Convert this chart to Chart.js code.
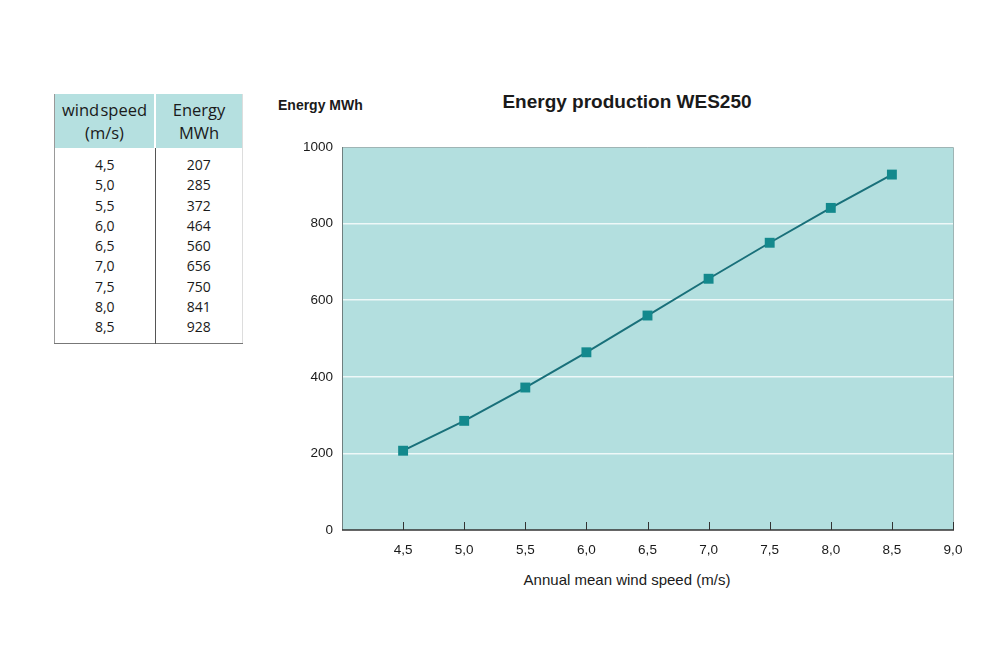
<!DOCTYPE html>
<html>
<head>
<meta charset="utf-8">
<script src="https://cdn.jsdelivr.net/npm/chart.js@4"></script>
<style>
  html, body { margin: 0; padding: 0; background: #ffffff; width: 1000px; height: 666px; overflow: hidden; }
  #tbl { position: absolute; left: 54px; top: 94px; width: 189px; border-collapse: collapse; font-family: "Open Sans", "Noto Sans", sans-serif; color: #1a1a1a; }
  #tbl th { background: #b5e0e0; font-weight: normal; font-size: 16.5px; line-height: 23px; height: 54px; padding: 0; text-align: center; word-spacing: -3px; }
  #tbl th.c1 { width: 99px; border-right: 2px solid #ffffff; }
  #tbl td { font-size: 14px; line-height: 20.3px; padding: 0; text-align: center; }
  #tbl td.c1 { border-right: 1.5px solid #555; }
  #tbl tbody tr:first-child td { padding-top: 7px; }
  #tbl tbody tr:last-child td { padding-bottom: 5px; }
  #tbl { border-left: 1px solid #999; border-bottom: 1.5px solid #777; border-right: 1px solid #ddd; }
  .txt { position: absolute; font-family: "Liberation Sans Narrow", "Liberation Sans", sans-serif; color: #1a1a1a; white-space: nowrap; }
  #ylab { left: 278px; top: 97px; font-weight: bold; font-size: 14px; }
  #title { left: 627px; top: 91px; transform: translateX(-50%); font-weight: bold; font-size: 19px; }
  #xlab { left: 627px; top: 571px; transform: translateX(-50%); font-size: 15px; }
  #wrap { position: absolute; left: 270px; top: 85px; width: 714px; height: 525px; }
</style>
</head>
<body>
<table id="tbl">
  <thead><tr><th class="c1">wind speed<br>(m/s)</th><th>Energy<br>MWh</th></tr></thead>
  <tbody id="tb"></tbody>
</table>
<div id="ylab" class="txt">Energy MWh</div>
<div id="title" class="txt">Energy production WES250</div>
<div id="xlab" class="txt">Annual mean wind speed (m/s)</div>
<div id="wrap"><canvas id="c" width="714" height="525"></canvas></div>
<script>
const windSpeeds = [4.5, 5.0, 5.5, 6.0, 6.5, 7.0, 7.5, 8.0, 8.5];
const energyMWh = [207, 285, 372, 464, 560, 656, 750, 841, 928];
const yTicks = [0, 200, 400, 600, 800, 1000];
const xTickLabels = ['4,5','5,0','5,5','6,0','6,5','7,0','7,5','8,0','8,5','9,0'];

const fmt = v => v.toFixed(1).replace('.', ',');
const tb = document.getElementById('tb');
windSpeeds.forEach((w, i) => {
  const tr = document.createElement('tr');
  tr.innerHTML = '<td class="c1">' + fmt(w) + '</td><td>' + energyMWh[i] + '</td>';
  tb.appendChild(tr);
});

const numFont = { family: '"Liberation Sans Narrow", "Liberation Sans", sans-serif', size: 13.5 };

const bgPlugin = {
  id: 'bg',
  beforeDraw(chart) {
    const { ctx, chartArea: a } = chart;
    ctx.save();
    ctx.fillStyle = '#b3dfdf';
    ctx.fillRect(a.left, a.top, a.right - a.left, a.bottom - a.top);
    ctx.restore();
  },
  beforeDatasetsDraw(chart) {
    const { ctx, chartArea: a, scales } = chart;
    ctx.save();
    ctx.strokeStyle = '#9fb5b5';
    ctx.lineWidth = 1;
    ctx.beginPath();
    ctx.moveTo(a.left, a.top + 0.5); ctx.lineTo(a.right + 0.5, a.top + 0.5); ctx.lineTo(a.right + 0.5, a.bottom);
    ctx.stroke();
    ctx.strokeStyle = '#6f7f7f';
    ctx.beginPath();
    ctx.moveTo(a.left + 0.5, a.top); ctx.lineTo(a.left + 0.5, a.bottom);
    ctx.stroke();
    ctx.strokeStyle = '#333';
    ctx.lineWidth = 1.5;
    ctx.beginPath();
    ctx.moveTo(a.left, a.bottom); ctx.lineTo(a.right + 1, a.bottom);
    ctx.stroke();
    ctx.lineWidth = 1;
    scales.x.ticks.forEach(t => {
      if (t.value < 4.5) return;
      const x = Math.round(scales.x.getPixelForValue(t.value)) + 0.5;
      ctx.beginPath();
      ctx.moveTo(x, a.bottom); ctx.lineTo(x, a.bottom - 8);
      ctx.stroke();
    });
    ctx.restore();
  }
};

new Chart(document.getElementById('c'), {
  type: 'line',
  data: {
    datasets: [{
      data: windSpeeds.map((w, i) => ({ x: w, y: energyMWh[i] })),
      borderColor: '#19707a',
      borderWidth: 2,
      backgroundColor: '#13898d',
      pointStyle: 'rect',
      pointRadius: 7,
      pointBorderWidth: 0,
      pointBackgroundColor: '#13898d',
      tension: 0
    }]
  },
  plugins: [bgPlugin],
  options: {
    responsive: false,
    animation: false,
    layout: { padding: { right: 31, top: 62 } },
    plugins: {
      legend: { display: false },
      tooltip: { enabled: false },
      title: { display: false }
    },
    scales: {
      x: {
        type: 'linear',
        min: 4.0,
        max: 9.0,
        afterFit(s) { s.height = 80; },
        grid: { display: false, drawTicks: false },
        border: { display: false },
        ticks: {
          stepSize: 0.5,
          padding: 12,
          color: '#1a1a1a',
          font: numFont,
          autoSkip: false,
          maxRotation: 0,
          callback: (v) => {
            const i = Math.round((v - 4.5) / 0.5);
            return i >= 0 ? xTickLabels[i] : '';
          }
        }
      },
      y: {
        min: 0,
        max: 1000,
        afterFit(s) { s.width = 72; },
        afterBuildTicks(s) { s.ticks = yTicks.map(v => ({ value: v })); },
        grid: {
          drawTicks: false,
          color: (c) => (c.tick && (c.tick.value === 0 || c.tick.value === 1000)) ? 'rgba(0,0,0,0)' : '#eef8f8',
          lineWidth: 1.5
        },
        border: { display: false },
        ticks: { padding: 9, color: '#1a1a1a', font: numFont, callback: (v) => String(v) }
      }
    }
  }
});
</script>
</body>
</html>
